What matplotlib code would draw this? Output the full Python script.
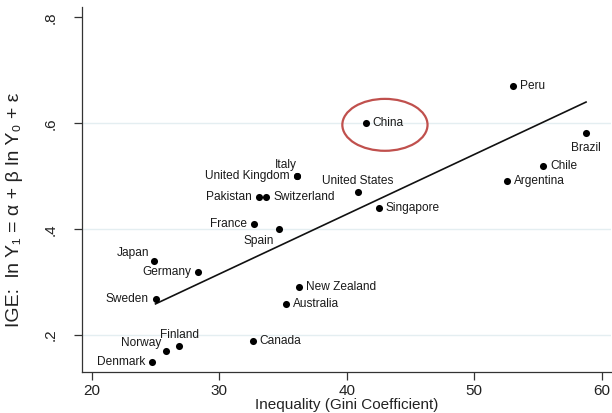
import numpy as np
import matplotlib
matplotlib.use('Agg')
import matplotlib.pyplot as plt
from matplotlib.patches import Ellipse

plt.rcParams['font.family'] = ['Liberation Sans', 'DejaVu Sans']

# Data: Gini coefficient vs intergenerational earnings elasticity
countries = ['Peru', 'China', 'Brazil', 'Chile', 'Argentina', 'United States',
             'Singapore', 'Italy', 'United Kingdom', 'Pakistan', 'Switzerland',
             'France', 'Spain', 'Japan', 'Germany', 'Sweden', 'New Zealand',
             'Australia', 'Finland', 'Norway', 'Denmark', 'Canada']
gini = [53.0, 41.5, 58.75, 55.4, 52.57, 40.86,
        42.51, 36.1, 36.1, 33.09, 33.67,
        32.75, 34.69, 24.9, 28.33, 25.0, 36.23,
        35.24, 26.88, 25.81, 24.74, 32.62]
ige = [0.671, 0.601, 0.581, 0.519, 0.491, 0.470,
       0.440, 0.500, 0.500, 0.461, 0.461,
       0.410, 0.400, 0.340, 0.320, 0.269, 0.290,
       0.259, 0.180, 0.170, 0.150, 0.189]
# label position, Stata clock style (111 = tight 11 o'clock)
label_pos = [3, 3, 6, 3, 3, 12,
             3, 111, 9, 9, 3,
             9, 7, 11, 9, 9, 3,
             3, 12, 11, 9, 3]

# fitted line endpoints as drawn
fit_x = [25.0, 58.76]
fit_y = [0.259, 0.640]

# highlighted point
highlight = 'China'

x_ticks = [20, 30, 40, 50, 60]
y_ticks = [0.2, 0.4, 0.6, 0.8]
y_ticklabels = ['.2', '.4', '.6', '.8']

POS = {
    3: dict(xytext=(5, 0), ha='left', va='center'),
    9: dict(xytext=(-5, 0), ha='right', va='center'),
    12: dict(xytext=(0, 3.5), ha='center', va='bottom'),
    6: dict(xytext=(0, -6), ha='center', va='top'),
    11: dict(xytext=(-3.5, 1.5), ha='right', va='bottom'),
    111: dict(xytext=(0, 3.5), ha='right', va='bottom'),
    7: dict(xytext=(-4, -4), ha='right', va='top'),
}

fig = plt.figure(figsize=(6.12, 4.13), dpi=100)
ax = fig.add_axes([0.1345, 0.100, 0.8635, 0.883])

for yt in y_ticks[:-1]:
    ax.axhline(yt, color='#e4eef1', lw=1.0, zorder=0)

ax.plot(fit_x, fit_y, color='#111111', lw=1.2, zorder=2)
ax.scatter(gini, ige, s=26, color='black', zorder=3, linewidths=0)

for name, gx, gy, p in zip(countries, gini, ige, label_pos):
    kw = POS[p]
    ax.annotate(name, (gx, gy), xytext=kw['xytext'], textcoords='offset points',
                ha=kw['ha'], va=kw['va'], fontsize=8.6, color='#1a1a1a')

i = countries.index(highlight)
ax.add_patch(Ellipse((gini[i] + 1.49, ige[i] - 0.004), 6.68, 0.098,
                     fill=False, edgecolor='#c0504d', lw=1.6, zorder=4))

ax.set_xlim(19.26, 60.7)
ax.set_ylim(0.131, 0.8194)
ax.set_xticks(x_ticks)
ax.set_yticks(y_ticks)
ax.set_yticklabels(y_ticklabels, rotation=90, va='center')
ax.tick_params(axis='both', direction='out', length=5.5, width=0.9,
               colors='#333333', labelsize=11, labelcolor='#222222')
ax.tick_params(axis='y', pad=12)
ax.tick_params(axis='x', pad=3)

for s in ['top', 'right']:
    ax.spines[s].set_visible(False)
for s in ['left', 'bottom']:
    ax.spines[s].set_color('#333333')
    ax.spines[s].set_linewidth(0.9)

ax.set_xlabel('Inequality (Gini Coefficient)', fontsize=11, color='#222222', labelpad=0)
ax.set_ylabel('IGE:  ln Y\u2081 = \u03b1 + \u03b2 ln Y\u2080 + \u03b5', fontsize=14,
              color='#222222', labelpad=10)
ax.yaxis.set_label_coords(-0.112, 0.443)

fig.savefig('out.png', dpi=100)
